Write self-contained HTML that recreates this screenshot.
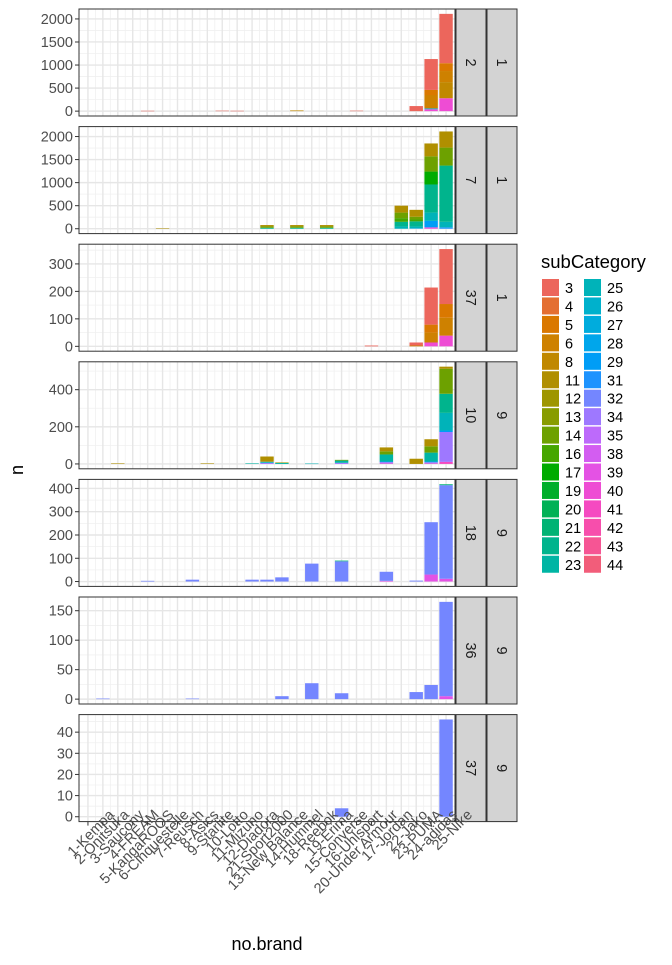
<!DOCTYPE html>
<html><head><meta charset="utf-8">
<style>
body{margin:0;background:#fff;font-family:"Liberation Sans",sans-serif;}
svg text{font-family:"Liberation Sans",sans-serif;}
</style></head>
<body>
<svg id="chart" width="672" height="960" xmlns="http://www.w3.org/2000/svg"></svg>
<script>
const categories=["1-Kempa","2-Onitsuka","3-Saucony","4-FREAM","5-KangaROOS","6-Cinquestelle","7-Reusch","8-Asics","9-Starlite","10-Lotto","11-Mizuno","12-Diadora","21-Sport2000","13-New Balance","14-Hummel","18-Reebok","19-Erima","15-Converse","16-Uhlsport","20-Under Armour","17-Jordan","22-Jako","23-PUMA","24-adidas","25-Nike"];
const subCategories=["3","4","5","6","8","11","12","13","14","16","17","19","20","21","22","23","25","26","27","28","29","31","32","34","35","38","39","40","41","42","43","44"];
const stripInner=["2","7","37","10","18","36","37"];
const stripOuter=["1","1","1","9","9","9","9"];
const panelTicks=[[0,500,1000,1500,2000],[0,500,1000,1500,2000],[0,100,200,300],[0,200,400],[0,100,200,300,400],[0,50,100,150],[0,10,20,30,40]];
// each bar: [categoryIndex, [[subCategory, value], ...]]
const panel1Bars=[[4,[["3",8]]],[9,[["3",10]]],[10,[["3",8]]],[14,[["8",15]]],[18,[["3",10]]],[22,[["3",110]]],
 [23,[["3",670],["5",110],["6",290],["27",20],["40",40]]],
 [24,[["3",1070],["5",170],["6",240],["8",350],["40",280]]]];
const panel2Bars=[[5,[["11",8]]],[12,[["11",30],["14",30],["22",20]]],[14,[["11",30],["14",30],["22",20]]],[16,[["11",30],["14",30],["22",20]]],
 [21,[["11",150],["14",120],["16",80],["22",100],["25",50]]],
 [22,[["11",150],["14",60],["16",40],["22",110],["25",40],["28",10]]],
 [23,[["11",280],["14",330],["17",280],["22",610],["25",180],["29",140],["40",30]]],
 [24,[["11",350],["14",390],["22",1220],["25",120],["31",30]]]];
const panel3Bars=[[19,[["3",3]]],[22,[["3",11],["6",3]]],
 [23,[["3",135],["5",29],["6",36],["40",14]]],
 [24,[["3",200],["5",50],["6",65],["40",39]]]];
const panel4Bars=[[2,[["11",3]]],[8,[["11",3]]],[11,[["23",3]]],[12,[["11",28],["25",6],["34",6]]],[13,[["12",3],["23",5]]],[15,[["25",2]]],
 [17,[["14",4],["23",12],["34",6]]],
 [20,[["11",21],["14",17],["23",38],["29",3],["34",7],["41",3]]],
 [22,[["11",28]]],
 [23,[["11",38],["14",34],["23",48],["29",4],["34",6],["41",3]]],
 [24,[["11",11],["14",135],["22",103],["25",95],["29",8],["34",161],["41",11]]]];
const panel5Bars=[[4,[["32",3]]],[7,[["32",8]]],[11,[["32",8]]],[12,[["32",8]]],[13,[["32",18]]],[15,[["32",77]]],[17,[["21",3],["32",87]]],
 [20,[["32",39],["39",3]]],[22,[["32",4]]],[23,[["32",225],["39",30]]],[24,[["21",4],["32",402],["39",12]]]];
const panel6Bars=[[1,[["32",1]]],[7,[["32",1]]],[13,[["32",5]]],[15,[["32",27]]],[17,[["32",10]]],[22,[["32",12]]],[23,[["32",24]]],[24,[["32",160],["39",5]]]];
const panel7Bars=[[17,[["32",4]]],[24,[["32",46]]]];
const panels=[panel1Bars,panel2Bars,panel3Bars,panel4Bars,panel5Bars,panel6Bars,panel7Bars];

const NS="http://www.w3.org/2000/svg";
const svg=document.getElementById("chart");
function mk(tag,attrs,parent){const e=document.createElementNS(NS,tag);for(const k in attrs)e.setAttribute(k,attrs[k]);(parent||svg).appendChild(e);return e;}

function hcl(h,c,l){const hr=h*Math.PI/180;const L=l,U0=c*Math.cos(hr),V0=c*Math.sin(hr);
 const Xn=95.047,Yn=100,Zn=108.883;const un=4*Xn/(Xn+15*Yn+3*Zn),vn=9*Yn/(Xn+15*Yn+3*Zn);
 const Y=L>8?Yn*Math.pow((L+16)/116,3):Yn*L/903.3;const u=U0/(13*L)+un,v=V0/(13*L)+vn;
 const X=9*Y*u/(4*v),Z=-X/3-5*Y+3*Y/v;const x=X/100,y=Y/100,z=Z/100;
 let r=3.2406*x-1.5372*y-0.4986*z,g=-0.9689*x+1.8758*y+0.0415*z,b=0.0557*x-0.2040*y+1.0570*z;
 const f=t=>{t=t<=0.0031308?12.92*t:1.055*Math.pow(t,1/2.4)-0.055;return Math.round(Math.max(0,Math.min(1,t))*255);};
 return `rgb(${f(r)},${f(g)},${f(b)})`;}
const nS=subCategories.length;
const colors=subCategories.map((s,i)=>hcl(15+i*360/nS,105,60));
function colorOf(s){return colors[subCategories.indexOf(s)];}

const PX0=79,PX1=455,nC=categories.length;
const step=(PX1-PX0)/(nC-1+1.2);
function xPos(i){return PX0+0.6*step+i*step;}
const barW=step*0.9;

panels.forEach((bars,p)=>{
 const top=9+p*117.6,h=107,bot=top+h;
 const g=mk("g",{});
 
 
 let maxV=0;bars.forEach(b=>{const t=b[1].reduce((a,s)=>a+s[1],0);if(t>maxV)maxV=t;});
 const lo=-0.05*maxV,hi=maxV*1.05;
 const yPos=v=>bot-(v-lo)/(hi-lo)*h;
 mk("rect",{x:PX0,y:top,width:PX1-PX0,height:h,fill:"#fff"},g);
 const ticks=panelTicks[p];const tstep=ticks[1]-ticks[0];
 for(let k=0;k<ticks.length+1;k++){const v=ticks[0]+tstep*(k+0.5);if(v<hi){mk("line",{x1:PX0,x2:PX1,y1:yPos(v),y2:yPos(v),stroke:"#f0f0f0","stroke-width":0.8},g);}}
 for(let i=0;i<nC-1;i++){const xm=(xPos(i)+xPos(i+1))/2;mk("line",{x1:xm,x2:xm,y1:top,y2:bot,stroke:"#f0f0f0","stroke-width":0.8},g);}
 ticks.forEach(v=>{mk("line",{x1:PX0,x2:PX1,y1:yPos(v),y2:yPos(v),stroke:"#e6e6e6","stroke-width":1.4},g);
  mk("line",{x1:PX0-4,x2:PX0,y1:yPos(v),y2:yPos(v),stroke:"#333","stroke-width":1},g);
  const t=mk("text",{x:PX0-6,y:yPos(v)+5,"text-anchor":"end","font-size":"14.5",fill:"#4d4d4d"},g);t.textContent=v;
  
  });
 for(let i=0;i<nC;i++)mk("line",{x1:xPos(i),x2:xPos(i),y1:top,y2:bot,stroke:"#e6e6e6","stroke-width":1.4},g);
 bars.forEach(b=>{
  const segs=b[1].slice().sort((a,c)=>subCategories.indexOf(c[0])-subCategories.indexOf(a[0]));
  let cum=0;
  segs.forEach(s=>{const y0=yPos(cum),y1=yPos(cum+s[1]);cum+=s[1];
   const r=mk("rect",{x:xPos(b[0])-barW/2,y:y1,width:barW,height:Math.max(0.5,y0-y1),fill:colorOf(s[0])},g);
   
   });
 });
 mk("rect",{x:PX0,y:top,width:PX1-PX0,height:h,fill:"none",stroke:"#333","stroke-width":1},g);
 [[456,stripInner[p]],[487,stripOuter[p]]].forEach(([sx,lab])=>{
  const r=mk("rect",{x:sx,y:top,width:30,height:h,fill:"#d3d3d3",stroke:"#333","stroke-width":1},g);
  
  
  const t=mk("text",{x:0,y:0,"text-anchor":"middle","font-size":"14.5",fill:"#1a1a1a",transform:`translate(${sx+10},${top+h/2}) rotate(90)`},g);
  t.textContent=lab;
  
  
 });
});
// x axis ticks and labels
const lastBot=9+6*117.6+107;
categories.forEach((c,i)=>{
 mk("line",{x1:xPos(i),x2:xPos(i),y1:lastBot,y2:lastBot+4,stroke:"#333","stroke-width":1});
 const t=mk("text",{x:0,y:0,"text-anchor":"end","font-size":"14.5",fill:"#4d4d4d",transform:`translate(${xPos(i)+27},${lastBot-6}) rotate(-45)`});
 t.textContent=c;
 
 
});
const yt=mk("text",{x:0,y:0,"font-size":"18",fill:"#000","text-anchor":"middle",transform:"translate(23,470) rotate(-90)"});
yt.textContent="n";


const xt=mk("text",{x:267,y:950,"font-size":"18",fill:"#000","text-anchor":"middle"});
xt.textContent="no.brand";


// legend
const lt=mk("text",{x:541,y:268,"font-size":"18.5",fill:"#000"});
lt.textContent="subCategory";


subCategories.forEach((s,i)=>{
 const col=Math.floor(i/16),row=i%16;
 const kx=542+col*42,ky=279+row*18.45;
 const r=mk("rect",{x:kx,y:ky,width:17,height:17,fill:colors[i]});
 
 
 const t=mk("text",{x:kx+23,y:ky+14,"font-size":"14.5",fill:"#000"});
 t.textContent=s;
 
 
});
</script>
</body></html>
